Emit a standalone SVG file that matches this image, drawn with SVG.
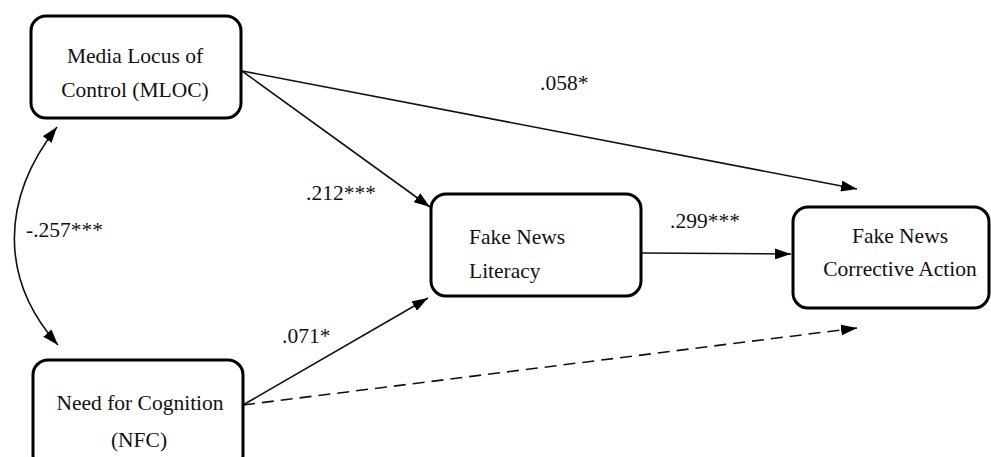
<svg xmlns="http://www.w3.org/2000/svg" width="991" height="457" viewBox="0 0 991 457">
<style>
.box{fill:#fff;stroke:#000;stroke-width:3}
.c{text-anchor:middle}
.ln{fill:none;stroke:#111;stroke-width:1.6}
.dash{stroke-dasharray:12,7}
</style>
<defs>
<marker id="ah" viewBox="0 0 16 11" refX="16" refY="5.5" markerWidth="16" markerHeight="11" markerUnits="userSpaceOnUse" orient="auto-start-reverse">
<path d="M0,0 L16,5.5 L0,11 z" fill="#000"/>
</marker>
</defs>
<rect width="991" height="457" fill="#fff"/>
<g font-family="Liberation Serif, DejaVu Serif, serif" font-size="21.5" fill="#111">
<g id="connectors">
<path class="ln" d="M242,71 L857,189" marker-end="url(#ah)"/>
<path class="ln" d="M242,71 L430,207" marker-end="url(#ah)"/>
<path class="ln" d="M243,405 L428,298" marker-end="url(#ah)"/>
<path class="ln dash" d="M243,405 L857,328" marker-end="url(#ah)"/>
<path class="ln" d="M641,253 L791,254" marker-end="url(#ah)"/>
<path class="ln" d="M57,127 C0,200 0,280 58,345" marker-start="url(#ah)" marker-end="url(#ah)"/>
<text x="540" y="90">.058*</text>
<text x="306" y="200">.212***</text>
<text x="26" y="237">-.257***</text>
<text x="282" y="343">.071*</text>
<text x="670" y="228">.299***</text>
</g>
<g id="mloc">
<rect class="box" x="31" y="16" width="210" height="102" rx="15"/>
<text class="c" x="135" y="63">Media Locus of</text>
<text class="c" x="135" y="97">Control (MLOC)</text>
</g>
<g id="nfc">
<rect class="box" x="33" y="360" width="210" height="110" rx="15"/>
<text class="c" x="140" y="410">Need for Cognition</text>
<text class="c" x="139" y="447">(NFC)</text>
</g>
<g id="fnl">
<rect class="box" x="431" y="194" width="210" height="102" rx="15"/>
<text x="469" y="244">Fake News</text>
<text x="469" y="278">Literacy</text>
</g>
<g id="fnca">
<rect class="box" x="793" y="207" width="196" height="101" rx="15"/>
<text class="c" x="900" y="243">Fake News</text>
<text class="c" x="900" y="276">Corrective Action</text>
</g>
</g>
</svg>
